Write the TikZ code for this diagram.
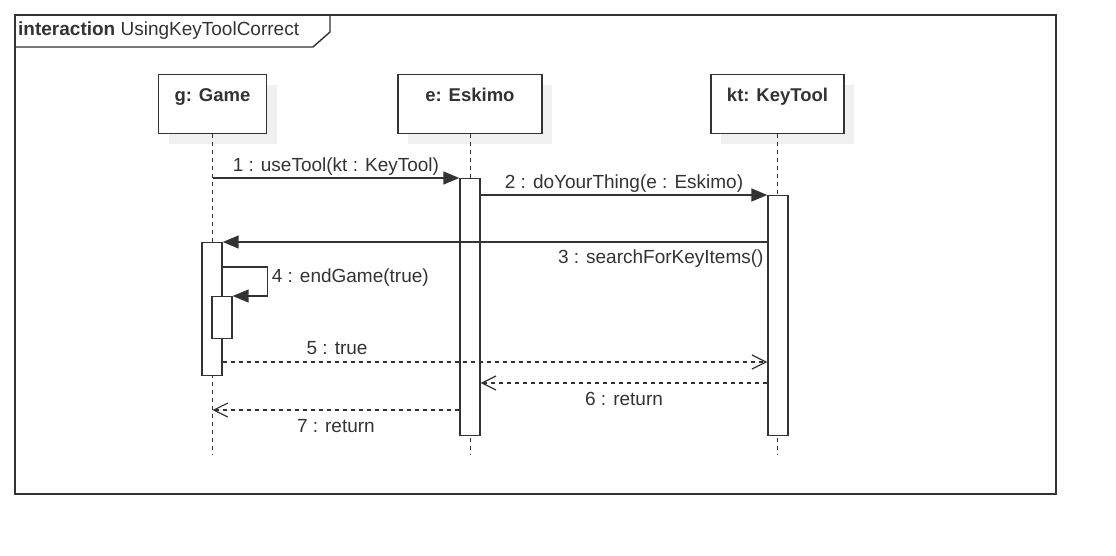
\documentclass[tikz,border=0pt]{standalone}
\usepackage{fontspec}
\setmainfont{Liberation Sans}
\usetikzlibrary{arrows.meta,positioning,shadows}
\definecolor{gris}{HTML}{333333}

\tikzset{
  objet/.style={draw=gris, line width=1.4pt, fill=white, anchor=north,
    font=\bfseries\fontsize{18.5}{22}\selectfont, inner ysep=14pt,
    text height=13pt, text depth=18pt, minimum height=59pt,
    drop shadow={shadow xshift=10pt, shadow yshift=-10pt, fill=black!6, opacity=1}},
  activ/.style={draw=gris, line width=1.4pt, fill=white, anchor=north,
    minimum width=20pt, inner sep=0pt},
  vie/.style={draw=gris, line width=1pt, dash pattern=on 4pt off 4pt},
  msg/.style={draw=gris, line width=1.5pt, -{Triangle[length=16pt,width=13pt]}},
  ret/.style={draw=gris, line width=1.2pt, dash pattern=on 4pt off 4pt,
    -{Straight Barb[length=14pt,width=14pt]}},
}

\begin{document}
\begin{tikzpicture}[x=1pt, y=-1pt, text=gris, font=\fontsize{19}{22}\selectfont]
\useasboundingbox (0,0) rectangle (1116,555);
% cadre de l'interaction
\draw[draw=gris, line width=1.4pt] (15,15) rectangle (1056,494);
\draw[draw=gris, line width=1.4pt] (15,47) -- (313,47) -- (330,32) -- (330,15);
\node[anchor=west, inner xsep=2pt] (titre) at (16,31) {\textbf{interaction} UsingKeyToolCorrect};
% objets
\node[objet, minimum width=108pt] (g) at (212.5,74) {g: Game};
\node[objet, minimum width=144pt] (e) at (470,74) {e: Eskimo};
\node[objet, minimum width=133pt] (kt) at (777.5,74) {kt: KeyTool};
% lignes de vie
\draw[vie] (g.south) -- (g.south |- 0,455);
\draw[vie] (e.south) -- (e.south |- 0,455);
\draw[vie] (kt.south) -- (kt.south |- 0,455);
% activations
\node[activ, minimum height=257pt] (aE) at (470,178) {};
\node[activ, minimum height=240pt] (aK) at (778,195) {};
\node[activ, minimum height=133pt] (aG) at (212,242) {};
\node[activ, minimum height=42pt] (aG2) at (222,296) {};
% messages
\draw[msg] (g.south |- aE.north) -- node[above, inner sep=2pt] {1 : useTool(kt : KeyTool)} (aE.north west);
\draw[msg] (aE.north east |- aK.north) -- node[above, inner sep=2pt] {2 : doYourThing(e : Eskimo)} (aK.north west);
\draw[msg] (aK.west |- aG.north) -- node[below left, pos=0, inner ysep=7pt, inner xsep=3pt] {3 : searchForKeyItems()} (aG.north east);
\draw[msg] (aG.east |- 0,267) -- ++(45,0) -- node[right, pos=0.35] {4 : endGame(true)} ++(0,29)
  -- (aG2.north east);
% retours
\draw[ret] (aG.east |- 0,362) -- node[above, pos=0.21, inner sep=7pt] {5 : true} (aK.west |- 0,362);
\draw[ret] (aK.west |- 0,383) -- node[below, inner sep=9pt] {6 : return} (aE.east |- 0,383);
\draw[ret] (aE.west |- 0,410) -- node[below, inner sep=9pt] {7 : return} (g.south |- 0,410);
\end{tikzpicture}
\end{document}
